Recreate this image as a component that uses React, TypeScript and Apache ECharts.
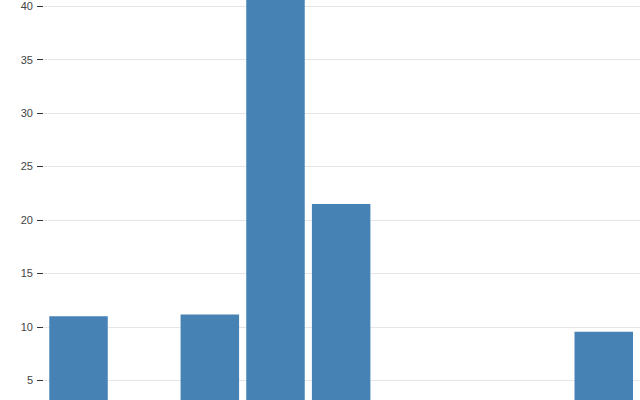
import React, { useEffect, useRef } from "react";
import * as echarts from "echarts";

const categories = ["A", "B", "C", "D", "E", "F", "G", "H", "I"];
const values: (number | null)[] = [11.0, null, 11.15, 44, 21.5, null, null, null, 9.55];
const yTicks = { min: 0, max: 50, interval: 5 };
const visibleTickLabels = [5, 10, 15, 20, 25, 30, 35, 40];

export default function App() {
  const ref = useRef<HTMLDivElement>(null);
  useEffect(() => {
    if (!ref.current) return;
    const chart = echarts.init(ref.current, null, { renderer: "svg" });
    chart.setOption({
      animation: false,
      grid: [
        { left: 43, right: 0, top: 19.1, bottom: 46.2 },
        { left: 45.7, right: 3.4, top: 19.1, bottom: 46.2 },
      ],
      xAxis: [
        { type: "value", gridIndex: 0, show: false, min: 0, max: 1 },
        {
          type: "category",
          gridIndex: 1,
          data: categories,
          show: false,
        },
      ],
      yAxis: [
        {
          type: "value",
          gridIndex: 0,
          min: yTicks.min,
          max: yTicks.max,
          interval: yTicks.interval,
          axisLine: { show: false },
          axisTick: { show: true, length: 6, lineStyle: { color: "#333", width: 1 } },
          axisLabel: {
            margin: 10,
            fontSize: 11,
            color: "#444",
            fontFamily: "Liberation Sans, Arial, sans-serif",
            formatter: (v: number) => (visibleTickLabels.includes(v) ? String(v) : ""),
          },
          splitLine: { show: true, lineStyle: { color: "#e6e6e6", width: 1 } },
        },
        {
          type: "value",
          gridIndex: 1,
          min: yTicks.min,
          max: yTicks.max,
          interval: yTicks.interval,
          show: false,
          splitLine: { show: false },
        },
      ],
      series: [
        {
          type: "bar",
          xAxisIndex: 1,
          yAxisIndex: 1,
          data: values,
          barWidth: 58.5,
          itemStyle: { color: "#4682b4" },
        },
      ],
    });
    return () => chart.dispose();
  }, []);
  return (
    <div
      style={{
        position: "absolute",
        left: 0,
        top: 0,
        width: 640,
        height: 400,
        overflow: "hidden",
        background: "#fff",
      }}
    >
      <div
        ref={ref}
        style={{ position: "absolute", left: 0, top: -120, width: 640, height: 600 }}
      />
    </div>
  );
}
